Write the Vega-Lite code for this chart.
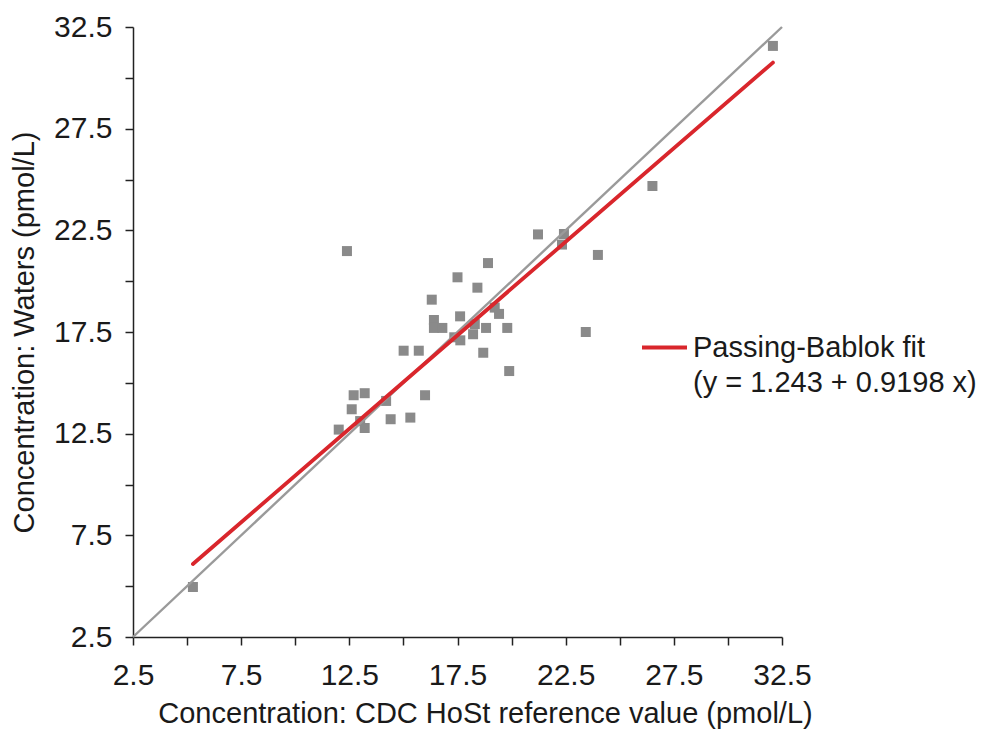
{
  "$schema": "https://vega.github.io/schema/vega-lite/v6.json",
  "width": 649,
  "height": 610,
  "autosize": "none",
  "padding": {"left": 133, "top": 27, "right": 208, "bottom": 97},
  "background": "white",
  "config": {
    "view": {"stroke": null},
    "font": "Liberation Sans",
    "axis": {
      "domainColor": "#222222",
      "domainWidth": 1.5,
      "tickColor": "#222222",
      "tickWidth": 1.5,
      "tickSize": 8,
      "grid": false,
      "labelFont": "Liberation Sans",
      "labelFontSize": 30,
      "labelColor": "#1a1a1a",
      "titleFont": "Liberation Sans",
      "titleFontSize": 29,
      "titleFontWeight": "normal",
      "titleColor": "#1a1a1a",
      "labelFlush": false,
      "labelOverlap": false
    },
    "legend": {
      "labelFont": "Liberation Sans",
      "labelFontSize": 29,
      "labelColor": "#1a1a1a",
      "padding": 0
    }
  },
  "datasets": {
    "points": [
      {"cdc": 5.27, "waters": 4.96},
      {"cdc": 32.08, "waters": 31.57},
      {"cdc": 26.51, "waters": 24.68},
      {"cdc": 21.22, "waters": 22.30},
      {"cdc": 22.42, "waters": 22.32},
      {"cdc": 22.33, "waters": 21.80},
      {"cdc": 23.99, "waters": 21.29},
      {"cdc": 12.39, "waters": 21.48},
      {"cdc": 18.91, "waters": 20.89},
      {"cdc": 17.50, "waters": 20.19},
      {"cdc": 18.42, "waters": 19.68},
      {"cdc": 16.31, "waters": 19.09},
      {"cdc": 16.41, "waters": 18.09},
      {"cdc": 17.62, "waters": 18.27},
      {"cdc": 16.41, "waters": 17.70},
      {"cdc": 16.80, "waters": 17.70},
      {"cdc": 19.22, "waters": 18.70},
      {"cdc": 19.42, "waters": 18.39},
      {"cdc": 18.30, "waters": 17.89},
      {"cdc": 18.82, "waters": 17.70},
      {"cdc": 19.80, "waters": 17.70},
      {"cdc": 18.22, "waters": 17.39},
      {"cdc": 17.35, "waters": 17.24},
      {"cdc": 17.63, "waters": 17.09},
      {"cdc": 15.01, "waters": 16.58},
      {"cdc": 15.71, "waters": 16.58},
      {"cdc": 18.69, "waters": 16.48},
      {"cdc": 19.89, "waters": 15.58},
      {"cdc": 23.43, "waters": 17.50},
      {"cdc": 12.70, "waters": 14.39},
      {"cdc": 13.21, "waters": 14.49},
      {"cdc": 16.00, "waters": 14.39},
      {"cdc": 12.61, "waters": 13.70},
      {"cdc": 14.20, "waters": 14.11},
      {"cdc": 13.00, "waters": 13.12},
      {"cdc": 14.41, "waters": 13.21},
      {"cdc": 15.32, "waters": 13.29},
      {"cdc": 12.01, "waters": 12.70},
      {"cdc": 13.21, "waters": 12.78}
    ],
    "identity": [
      {"cdc": 2.5, "waters": 2.5},
      {"cdc": 32.5, "waters": 32.5}
    ],
    "fit": [
      {"cdc": 5.27, "waters": 6.09, "series": "Passing-Bablok fit"},
      {"cdc": 32.08, "waters": 30.75, "series": "Passing-Bablok fit"}
    ]
  },
  "encoding": {
    "x": {
      "field": "cdc",
      "type": "quantitative",
      "scale": {"domain": [2.5, 32.5], "nice": false, "zero": false},
      "axis": {
        "title": "Concentration: CDC HoSt reference value (pmol/L)",
        "values": [2.5, 5, 7.5, 10, 12.5, 15, 17.5, 20, 22.5, 25, 27.5, 30, 32.5],
        "labelExpr": "datum.value % 5 == 2.5 ? format(datum.value, '.1f') : ''",
        "labelPadding": 15,
        "titlePadding": 9,
        "titleX": 352
      }
    },
    "y": {
      "field": "waters",
      "type": "quantitative",
      "scale": {"domain": [2.5, 32.5], "nice": false, "zero": false},
      "axis": {
        "title": "Concentration: Waters (pmol/L)",
        "values": [2.5, 5, 7.5, 10, 12.5, 15, 17.5, 20, 22.5, 25, 27.5, 30, 32.5],
        "labelExpr": "datum.value % 5 == 2.5 ? format(datum.value, '.1f') : ''",
        "labelPadding": 13,
        "titlePadding": 14
      }
    }
  },
  "layer": [
    {
      "data": {"name": "points"},
      "mark": {"type": "square", "size": 100, "color": "#8a8a8a", "opacity": 1, "filled": true}
    },
    {
      "data": {"name": "identity"},
      "mark": {"type": "line", "color": "#9a9a9a", "strokeWidth": 2.4}
    },
    {
      "data": {"name": "fit"},
      "mark": {"type": "line", "strokeWidth": 3.8, "strokeCap": "round"},
      "encoding": {
        "color": {
          "field": "series",
          "type": "nominal",
          "scale": {"range": ["#d9262c"]},
          "legend": {
            "title": null,
            "orient": "none",
            "legendX": 507,
            "legendY": 296,
            "symbolType": "stroke",
            "symbolSize": 2025,
            "symbolStrokeWidth": 3.8,
            "labelOffset": 4,
            "labelLimit": 500,
            "labelBaseline": "middle",
            "labelExpr": "['Passing-Bablok fit', '(y = 1.243 + 0.9198 x)']",
            "encode": {
              "labels": {"update": {"lineHeight": {"value": 35}}}
            }
          }
        }
      }
    }
  ]
}
